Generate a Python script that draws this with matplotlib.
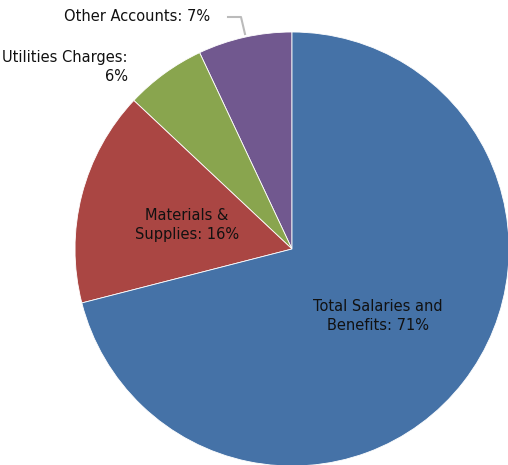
import matplotlib
matplotlib.use("Agg")
import matplotlib.pyplot as plt

labels = ["Other Accounts", "Utilities Charges", "Materials & Supplies", "Total Salaries and Benefits"]
values = [7, 6, 16, 71]
colors = ["#71588F", "#89A54E", "#AA4643", "#4572A7"]

W, H = 508, 465
fig = plt.figure(figsize=(W / 100, H / 100), dpi=100)
cx, cy, r = 292, 249, 217
ax = fig.add_axes([(cx - r) / W, (H - cy - r) / H, 2 * r / W, 2 * r / H])
wedges, _ = ax.pie(values, colors=colors, startangle=90, counterclock=True,
                   wedgeprops=dict(edgecolor="white", linewidth=0.6))
for w in wedges:
    w.set_clip_on(False)
ax.set_xlim(-1, 1)
ax.set_ylim(-1, 1)
ax.set_aspect("equal")
ax.axis("off")

def d(px, py):
    return (px - cx) / r, (cy - py) / r

fs = 10.5
font = "DejaVu Sans"
tc = "#111111"
ax.text(*d(210, 17), "Other Accounts: 7%", ha="right", va="center", fontsize=fs, family=font, color=tc)
ax.text(*d(128, 67), "Utilities Charges:\n6%", ha="right", va="center", multialignment="right",
        fontsize=fs, family=font, color=tc, linespacing=1.3)
ax.text(*d(187, 225), "Materials &\nSupplies: 16%", ha="center", va="center", multialignment="center",
        fontsize=fs, family=font, color=tc, linespacing=1.3)
ax.text(*d(378, 316), "Total Salaries and\nBenefits: 71%", ha="center", va="center", multialignment="center",
        fontsize=fs, family=font, color=tc, linespacing=1.3)
lx, ly = zip(d(228, 17), d(241, 17), d(245, 34))
ax.plot(lx, ly, color="#BBBBBB", linewidth=1.5, clip_on=False)

fig.savefig("out.png", dpi=100)
